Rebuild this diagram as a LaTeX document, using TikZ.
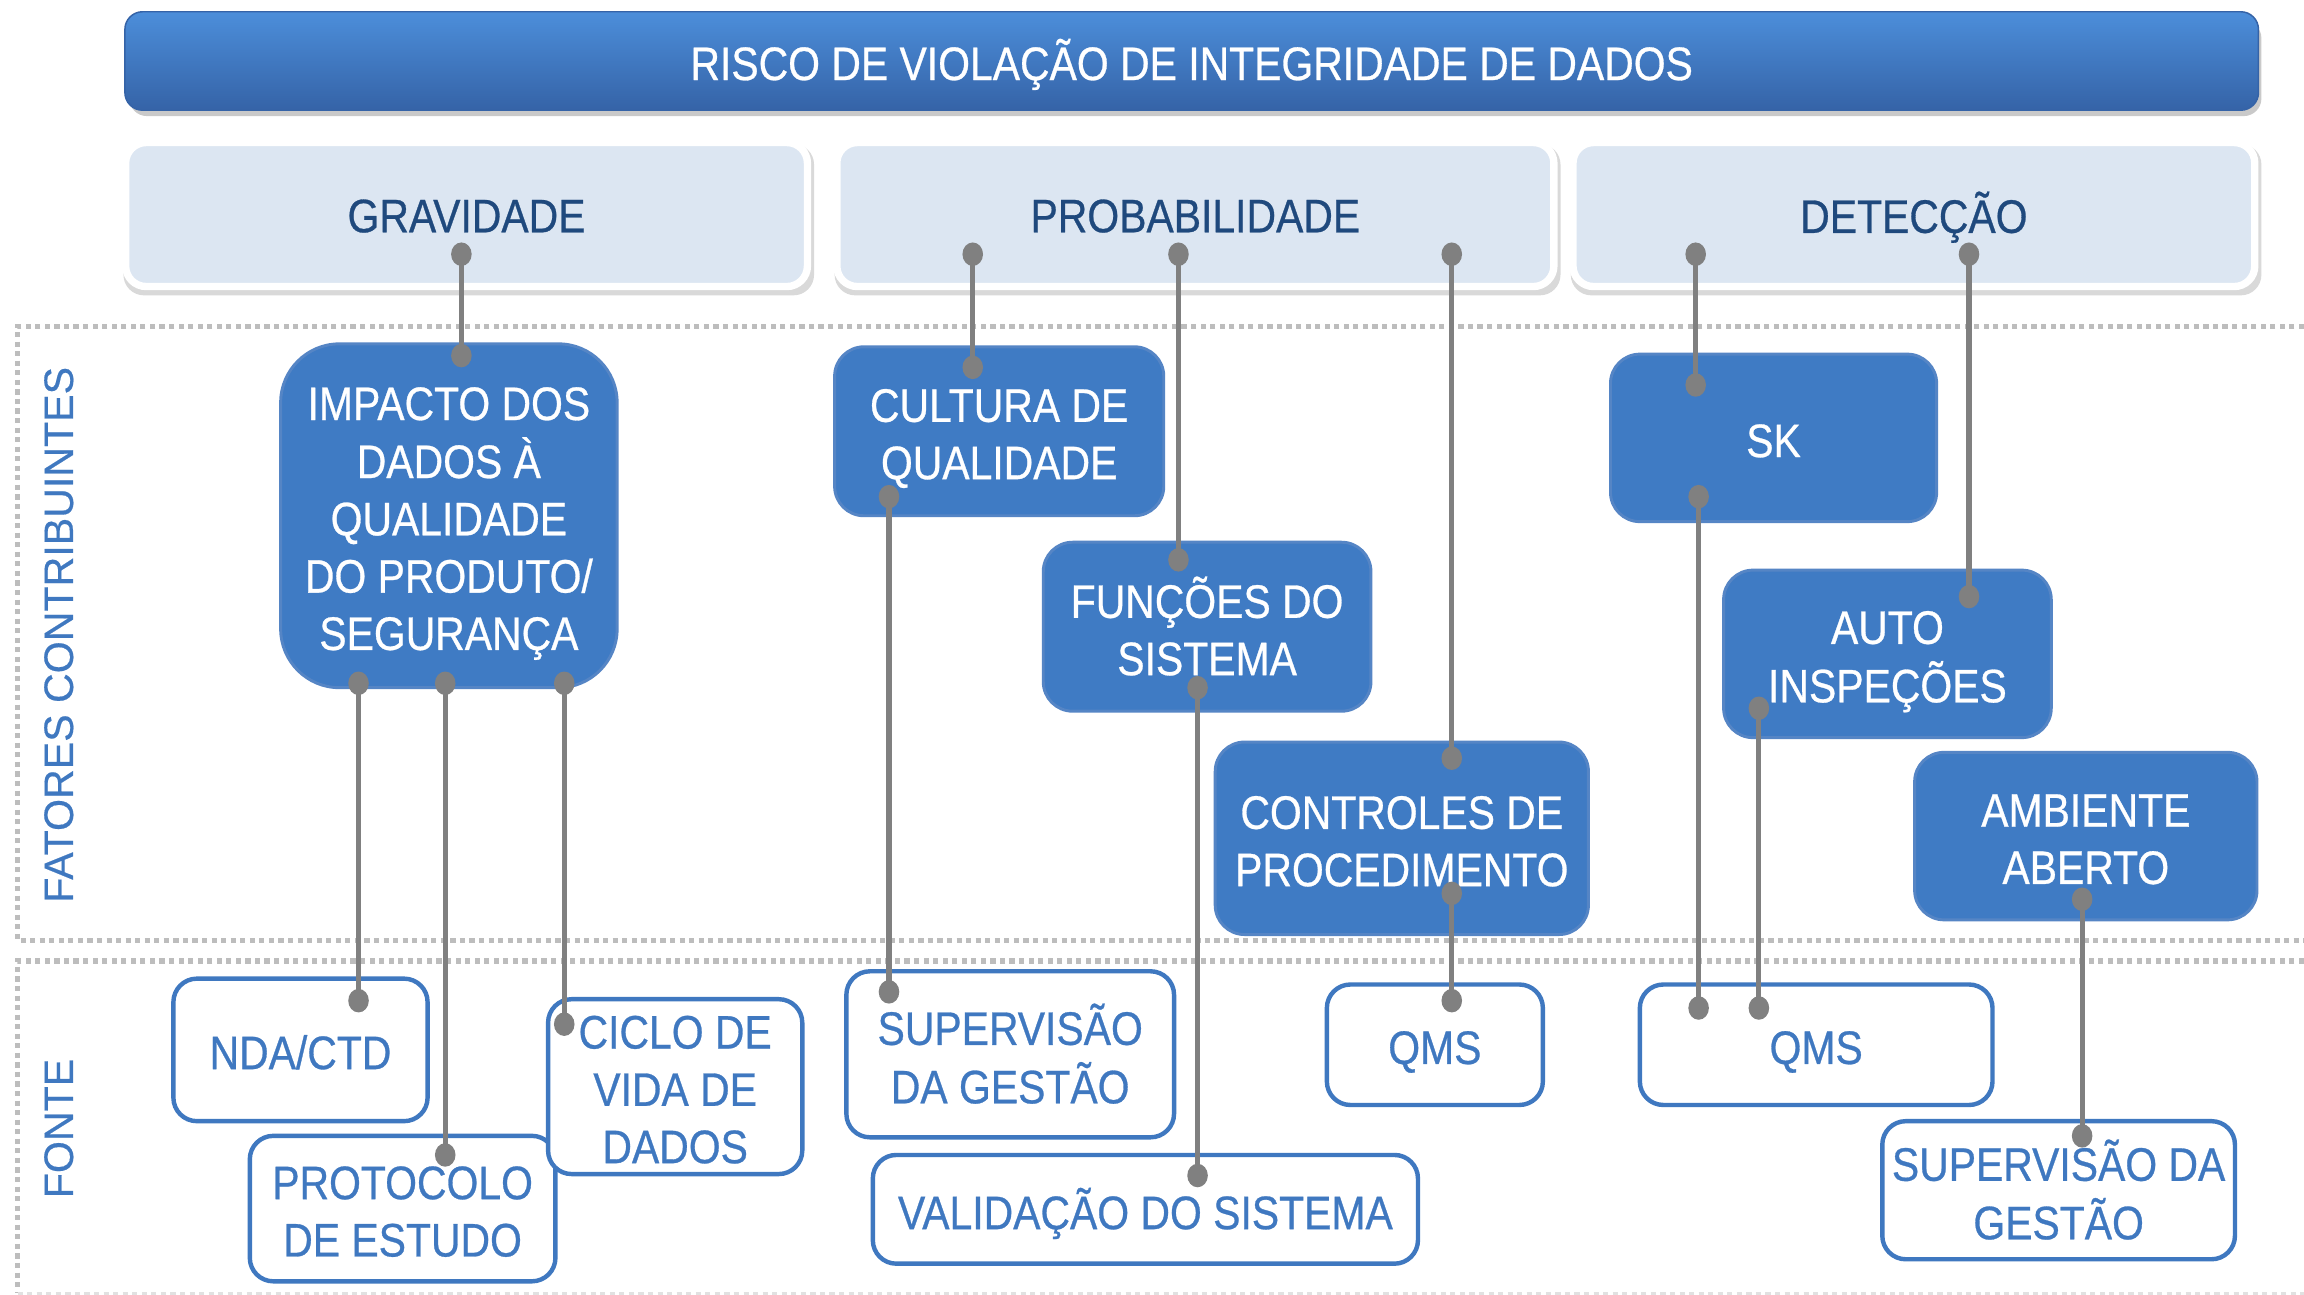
\documentclass[tikz,border=0pt]{standalone}
\usepackage{fontspec}
\setmainfont{Liberation Sans}[FakeStretch=0.87, FakeBold=0.6]
\newfontfamily\sidefont{Liberation Sans}[FakeBold=0.4]
\definecolor{midblue}{HTML}{3F7BC4}
\definecolor{midborder}{HTML}{5585C5}
\definecolor{txtblue}{HTML}{3F78C0}
\definecolor{catfill}{HTML}{DCE6F2}
\definecolor{cattext}{HTML}{1F497D}
\definecolor{connc}{HTML}{808080}
\definecolor{dotgrey}{HTML}{BDBDBD}
\definecolor{titletop}{HTML}{4C8EDA}
\definecolor{titlebot}{HTML}{3563A7}
\newcommand{\nodetxt}[2][11.5pt]{\raisebox{-#1}[0pt][0pt]{\begin{tabular}{@{}c@{}}#2\end{tabular}}}
\tikzset{
  mainfont/.style={font=\fontsize{32}{39}\selectfont},
  titlebox/.style={rectangle, rounded corners=12pt, top color=titletop, bottom color=titlebot, draw=titlebot, line width=1pt, text=white, mainfont, inner sep=0pt},
  catbox/.style={rectangle, rounded corners=14pt, fill=catfill, draw=white, line width=5pt, text=cattext, mainfont, inner sep=0pt, minimum height=98pt},
  midbox/.style={rectangle, rounded corners=20pt, fill=midblue, draw=midborder, line width=2pt, text=white, mainfont, align=center, inner sep=0pt},
  srcbox/.style={rectangle, rounded corners=16pt, fill=white, draw=txtblue, line width=3pt, text=txtblue, mainfont, align=center, inner sep=0pt},
  connline/.style={draw=connc, line width=3.5pt},
  regionline/.style={draw=dotgrey, line width=3.5pt, dash pattern=on 3.5pt off 3pt},
  sidelabel/.style={text=txtblue, font=\sidefont\fontsize{28}{30}\selectfont, rotate=90, inner sep=0pt}
}
\begin{document}
\begin{tikzpicture}[x=1pt,y=-1pt]
\useasboundingbox (0,0) rectangle (1568,881);
\fill[white] (0,0) rectangle (1568,881);
% regions
\draw[regionline] (1568,222) -- (12,222) -- (12,640) -- (1568,640);
\draw[regionline] (1568,654) -- (12,654) -- (12,880);
\draw[draw=dotgrey!45, line width=2pt, dash pattern=on 3.5pt off 3pt] (12,880) -- (1568,880);
\node[sidelabel] (lblfat) at (40,432) {FATORES CONTRIBUINTES};
\node[sidelabel] (lblfonte) at (40,768) {FONTE};
% title
\fill[black!35, opacity=0.6, rounded corners=12pt] (88,14) rectangle (1539,79);
\node[titlebox, minimum width=1452pt, minimum height=67pt] (title) at (811,41.5) {\nodetxt[11pt]{RISCO DE VIOLAÇÃO DE INTEGRIDADE DE DADOS}};
% category boxes
\fill[black!15, rounded corners=14pt] (84,98) rectangle (554,201);
\fill[black!15, rounded corners=14pt] (568,98) rectangle (1062,201);
\fill[black!15, rounded corners=14pt] (1069,98) rectangle (1539,201);
\node[catbox, minimum width=464pt] (grav) at (317.5,146) {\nodetxt[10.5pt]{GRAVIDADE}};
\node[catbox, minimum width=488pt] (prob) at (813.5,146) {\nodetxt[10.5pt]{PROBABILIDADE}};
\node[catbox, minimum width=464pt] (det) at (1302.5,146) {\nodetxt[10.5pt]{DETECÇÃO}};
% contributing factors
\node[midbox, rounded corners=40pt, minimum width=229pt, minimum height=234pt] (impacto) at (305.5,351) {\nodetxt{IMPACTO DOS\\DADOS À\\QUALIDADE\\DO PRODUTO/\\SEGURANÇA}};
\node[midbox, minimum width=224pt, minimum height=115pt] (cultura) at (680,293.5) {\nodetxt{CULTURA DE\\QUALIDADE}};
\node[midbox, minimum width=223pt, minimum height=115pt] (funcoes) at (821.5,426.5) {\nodetxt{FUNÇÕES DO\\SISTEMA}};
\node[midbox, minimum width=254pt, minimum height=131pt] (controles) at (954,570.5) {\nodetxt{CONTROLES DE\\PROCEDIMENTO}};
\node[midbox, minimum width=222pt, minimum height=114pt] (sk) at (1207,298) {\nodetxt{SK}};
\node[midbox, minimum width=223pt, minimum height=114pt] (auto) at (1284.5,445) {\nodetxt{AUTO\\INSPEÇÕES}};
\node[midbox, minimum width=233pt, minimum height=114pt] (ambiente) at (1419.5,569) {\nodetxt{AMBIENTE\\ABERTO}};
% sources
\node[srcbox, minimum width=173pt, minimum height=97pt] (nda) at (204.5,714.5) {\nodetxt{NDA/CTD}};
\node[srcbox, minimum width=208pt, minimum height=99pt] (protocolo) at (274,822.5) {\nodetxt{PROTOCOLO\\DE ESTUDO}};
\node[srcbox, minimum width=173pt, minimum height=119pt] (ciclo) at (459.5,739.5) {\nodetxt{CICLO DE\\VIDA DE\\DADOS}};
\node[srcbox, minimum width=223pt, minimum height=113pt] (supgest) at (687.5,717.5) {\nodetxt{SUPERVISÃO\\DA GESTÃO}};
\node[srcbox, minimum width=371pt, minimum height=74pt] (valid) at (779.5,823) {\nodetxt{VALIDAÇÃO DO SISTEMA}};
\node[srcbox, minimum width=147pt, minimum height=82pt] (qmsa) at (976.5,711) {\nodetxt{QMS}};
\node[srcbox, minimum width=240pt, minimum height=82pt] (qmsb) at (1236,711) {\nodetxt{QMS}};
\node[srcbox, minimum width=240pt, minimum height=94pt] (supgestb) at (1401,810) {\nodetxt{SUPERVISÃO DA\\GESTÃO}};
% connector end points
\coordinate (g1) at (314,173);   \coordinate (i0) at (314,242);
\coordinate (i1) at (244,465);   \coordinate (n1) at (244,681);
\coordinate (i2) at (303,465);   \coordinate (p1) at (303,786);
\coordinate (i3) at (384,465);   \coordinate (c1) at (384,697);
\coordinate (pr1) at (662,173);  \coordinate (cu0) at (662,250);
\coordinate (cu1) at (605,338);  \coordinate (sg1) at (605,675);
\coordinate (pr2) at (802,173);  \coordinate (f0) at (802,381);
\coordinate (f1) at (815,468);   \coordinate (v1) at (815,800);
\coordinate (pr3) at (988,173);  \coordinate (ct0) at (988,516);
\coordinate (ct1) at (988,608);  \coordinate (qa1) at (988,681);
\coordinate (d1) at (1154,173);  \coordinate (sk0) at (1154,262);
\coordinate (sk1) at (1156,338); \coordinate (qb1) at (1156,686);
\coordinate (d2) at (1340,173);  \coordinate (au0) at (1340,406);
\coordinate (au1) at (1197,482); \coordinate (qb2) at (1197,686);
\coordinate (am1) at (1417,612); \coordinate (sb1) at (1417,773);
\foreach \a/\b in {g1/i0, i1/n1, i2/p1, i3/c1, pr1/cu0, cu1/sg1, pr2/f0, f1/v1, pr3/ct0, ct1/qa1, d1/sk0, sk1/qb1, d2/au0, au1/qb2, am1/sb1}{
  \draw[connline] (\a) -- (\b);
  \fill[connc] (\a) ellipse[x radius=7, y radius=8];
  \fill[connc] (\b) ellipse[x radius=7, y radius=8];
}
\end{tikzpicture}
\end{document}
